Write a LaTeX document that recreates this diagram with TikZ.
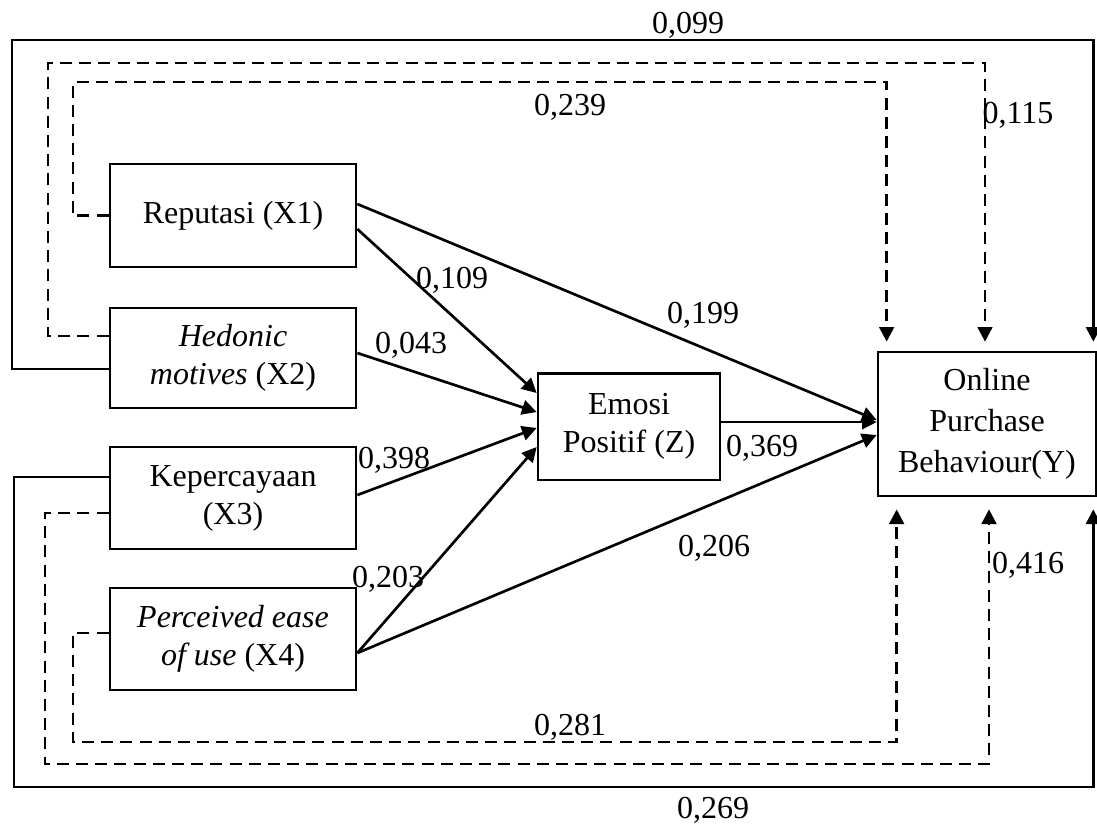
\documentclass[tikz,border=0pt]{standalone}
\usepackage{fontspec}
\setmainfont{Liberation Serif}
\usepackage{tikz}
\usetikzlibrary{arrows.meta,calc}

\tikzset{
  varbox/.style={draw,line width=1pt,align=center,inner sep=2pt},
  link/.style={line width=1pt,-{Triangle[length=5.5pt,width=5.5pt]}},
  dlink/.style={link,dash pattern=on 4.5pt off 2.7pt},
  coef/.style={inner sep=0pt,anchor=base}
}

\begin{document}
\begin{tikzpicture}[x=0.375pt,y=-0.375pt,font=\fontsize{12}{14.3}\selectfont]
  \path[use as bounding box] (0,0) rectangle (1097,824);
  % variables
  \node[varbox,minimum width=92.25pt,minimum height=38.6pt] (x1) at (233,215.5) {Reputasi (X1)};
  \node[varbox,minimum width=92.25pt,minimum height=37.5pt] (x2) at (233,358) {\textit{Hedonic}\\\textit{motives} (X2)};
  \node[varbox,minimum width=92.25pt,minimum height=38.3pt] (x3) at (233,498) {Kepercayaan\\(X3)};
  \node[varbox,minimum width=92.25pt,minimum height=38.3pt] (x4) at (233,639) {\textit{Perceived ease}\\\textit{of use} (X4)};
  \node[varbox,minimum width=68.25pt,minimum height=40pt] (z) at (629,426.5) {Emosi\\Positif (Z)};
  \node[varbox,minimum width=81.75pt,minimum height=54pt,font=\fontsize{12}{15.4}\selectfont] (y) at (987,424) {Online\\Purchase\\Behaviour(Y)};
  % paths through Z
  \draw[link] ($(x1.east)+(0,13.5)$) -- ($(z.west)+(0,-33.5)$);
  \draw[link] ($(x2.east)+(0,-5)$) -- ($(z.west)+(0,-14.5)$);
  \draw[link] ($(x3.east)+(0,-3)$) -- ($(z.west)+(0,1.5)$);
  \draw[link] ($(x4.east)+(0,14)$) -- ($(z.west)+(0,20.5)$);
  \draw[link,line width=0.5pt] ($(z.east)+(0,-4.5)$) -- ($(y.west)+(0,-2)$);
  % direct paths to Y
  \draw[link] ($(x1.east)+(0,-11.5)$) -- ($(y.west)+(0,-4)$);
  \draw[link] ($(x4.east)+(0,14)$) -- ($(y.west)+(0,11)$);
  % round the top
  \draw[link] ($(x2.west)+(0,11)$) -| (12,40) -| ($(y.north east)+(-4,-9)$);
  \draw[dlink] ($(x2.west)+(0,-22)$) -| (48,63) -| ($(y.north)+(-2,-9)$);
  \draw[dlink] (x1.west) -| (73,82) -| ($(y.north west)+(10,-9)$);
  % round the bottom
  \draw[link] ($(x3.west)+(0,-21)$) -| (14,787) -| ($(y.south east)+(-4,12)$);
  \draw[dlink] ($(x3.west)+(0,15)$) -| (45,764) -| ($(y.south)+(2,12)$);
  \draw[dlink] ($(x4.west)+(0,-6)$) -| (73,742) -| ($(y.south west)+(20,12)$);
  % coefficients
  \node[coef] (c099) at (688,33) {0,099};
  \node[coef] (c115) at (1018,123) {0,115};
  \node[coef] (c239) at (570,115) {0,239};
  \node[coef] (c109) at (452,288) {0,109};
  \node[coef] (c199) at (703,323) {0,199};
  \node[coef] (c043) at (411,353) {0,043};
  \node[coef] (c369) at (762,456) {0,369};
  \node[coef] (c398) at (394,468) {0,398};
  \node[coef] (c206) at (714,556) {0,206};
  \node[coef] (c416) at (1028,573) {0,416};
  \node[coef] (c203) at (388,587) {0,203};
  \node[coef] (c281) at (570,735) {0,281};
  \node[coef] (c269) at (713,818) {0,269};
\end{tikzpicture}
\end{document}
